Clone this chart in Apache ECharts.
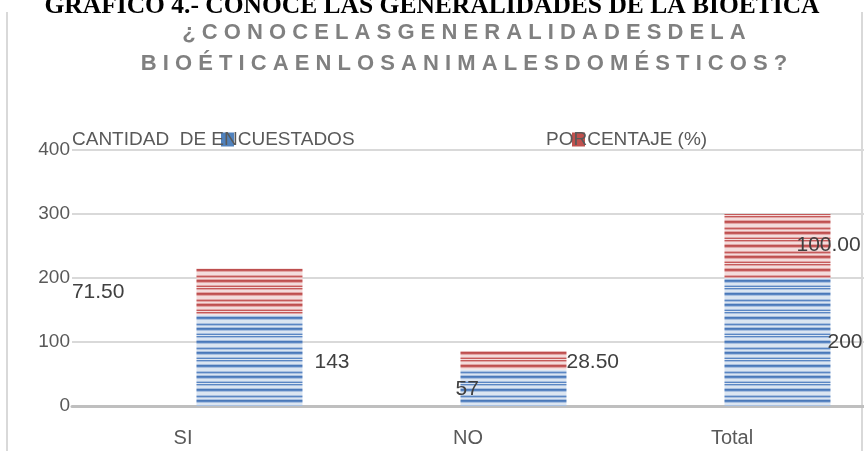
<!DOCTYPE html>
<html>
<head>
<meta charset="utf-8">
<script src="https://cdn.jsdelivr.net/npm/echarts@6/dist/echarts.min.js"></script>
<style>
  html, body { margin: 0; padding: 0; background: #fff; }
  #chart { width: 864px; height: 451px; }
</style>
</head>
<body>
<div id="chart"></div>
<script>
// datos del gráfico
const categorias = ['SI', 'NO', 'Total'];
const cantidad = [143, 57, 200];
const porcentaje = [71.5, 28.5, 100];
const yTicks = [0, 100, 200, 300, 400];
const serieNombres = ['CANTIDAD  DE ENCUESTADOS', 'PORCENTAJE (%)'];

const titulo = 'GRAFICO 4.- CONOCE LAS GENERALIDADES DE LA BIOETICA';
const subtitulo = ['¿CONOCELASGENERALIDADESDELA', 'BIOÉTICAENLOSANIMALESDOMÉSTICOS?'];

const fontTxt = '"Liberation Sans", Arial, sans-serif';

// textura rayada de las barras
function rayas(filas) {
  const c = document.createElement('canvas');
  c.width = 4;
  c.height = filas.length;
  const ctx = c.getContext('2d');
  filas.forEach((col, i) => {
    ctx.fillStyle = col;
    ctx.fillRect(0, i, 4, 1);
  });
  return { image: c, repeat: 'repeat' };
}
const bL = '#dbe5f1', bM = '#a9c0e0', bD = '#5a86c3', bD2 = '#4a78b8';
const rL = '#f3dcdc', rM = '#e2a5a5', rD = '#c55a5a', rD2 = '#bd4f4f';
const azul = rayas([bD, bM, bL, bL, bM, bD2, bD, bM, bL, bL, bL, bM, bD, bM, bL, bM, bD2, bD, bM, bL, bL, bM, bD, bL]);
const rojo = rayas([rD, rM, rL, rL, rM, rD2, rD, rM, rL, rL, rL, rM, rD, rM, rL, rM, rD2, rD, rM, rL, rL, rM, rD, rL]);

// posicion de etiquetas como en el original (excel)
const lblCant = [
  { position: 'right', distance: 12, offset: [0, 2] },
  { position: 'insideLeft', distance: 5, offset: [-10, 1] },
  { position: 'right', distance: -3, offset: [0, 0] }
];
const lblPorc = [
  { position: 'left', distance: 72, offset: [0, 1] },
  { position: 'right', distance: 0, offset: [0, 2] },
  { position: 'right', distance: -34, offset: [0, -1] }
];

const chart = echarts.init(document.getElementById('chart'));

const labelBase = { show: true, color: '#404040', fontSize: 21, fontFamily: fontTxt };

function leyenda(nombre, color, left, corrimiento) {
  return {
    data: [{ name: nombre, itemStyle: { color: color, borderWidth: 0 } }],
    left: left,
    top: 125,
    icon: 'rect',
    itemWidth: 13,
    itemHeight: 14,
    selectedMode: false,
    textStyle: { fontFamily: fontTxt, fontSize: 19, color: '#595959', padding: [0, 0, 0, corrimiento] }
  };
}

const option = {
  animation: false,
  title: [{
    text: titulo,
    left: 'center',
    top: -12,
    textStyle: { fontFamily: '"Liberation Serif", "Times New Roman", serif', fontWeight: 'bold', fontSize: 25.5, color: '#000' }
  }, {
    text: subtitulo.map((s) => s.split('').join(' ')).join('\n'),
    left: 459,
    top: 12,
    textAlign: 'center',
    textStyle: { fontFamily: fontTxt, fontWeight: 'bold', fontSize: 22, lineHeight: 31, color: '#808080' }
  }],
  legend: [
    leyenda(serieNombres[0], '#4f81bd', 67, -167),
    leyenda(serieNombres[1], '#c0504d', 541, -44)
  ],
  grid: { left: 72, right: 0, top: 150, bottom: 45 },
  xAxis: {
    type: 'category',
    data: categorias,
    axisLine: { lineStyle: { color: '#bfbfbf', width: 3 } },
    axisTick: { show: false },
    axisLabel: {
      margin: 22,
      fontFamily: fontTxt,
      fontSize: 20,
      color: '#595959',
      formatter: (v, i) => i === 0 ? '{a|' + v + '}' : v,
      rich: { a: { fontFamily: fontTxt, fontSize: 20, color: '#595959', padding: [0, 42, 0, 0] } }
    }
  },
  yAxis: {
    type: 'value',
    min: yTicks[0],
    max: yTicks[yTicks.length - 1],
    interval: 100,
    axisLine: { show: false },
    axisTick: { show: false },
    splitLine: { lineStyle: { color: '#d9d9d9', width: 2 } },
    axisLabel: { margin: 2, fontFamily: fontTxt, fontSize: 19, color: '#595959' }
  },
  series: [{
    // hueco vacio: las barras quedan corridas a la derecha como en excel
    name: 'hueco',
    type: 'bar',
    stack: 'hueco',
    barWidth: 106,
    barGap: '-14.2%',
    data: []
  }, {
    name: serieNombres[0],
    type: 'bar',
    stack: 'total',
    barWidth: 106,
    barGap: '-14.2%',
    itemStyle: { color: azul },
    data: cantidad.map((v, i) => ({
      value: v,
      label: Object.assign({}, labelBase, lblCant[i], { formatter: String(v) })
    }))
  }, {
    name: serieNombres[1],
    type: 'bar',
    stack: 'total',
    barWidth: 106,
    barGap: '-14.2%',
    itemStyle: { color: rojo },
    data: porcentaje.map((v, i) => ({
      value: v,
      label: Object.assign({}, labelBase, lblPorc[i], { formatter: v.toFixed(2) })
    }))
  }],
  graphic: [
    { type: 'line', shape: { x1: 7, y1: 12, x2: 7, y2: 451 }, style: { stroke: '#d9d9d9', lineWidth: 2 } },
    { type: 'line', shape: { x1: 862, y1: 12, x2: 862, y2: 451 }, style: { stroke: '#d9d9d9', lineWidth: 2 } }
  ]
};

chart.setOption(option);
</script>
</body>
</html>
